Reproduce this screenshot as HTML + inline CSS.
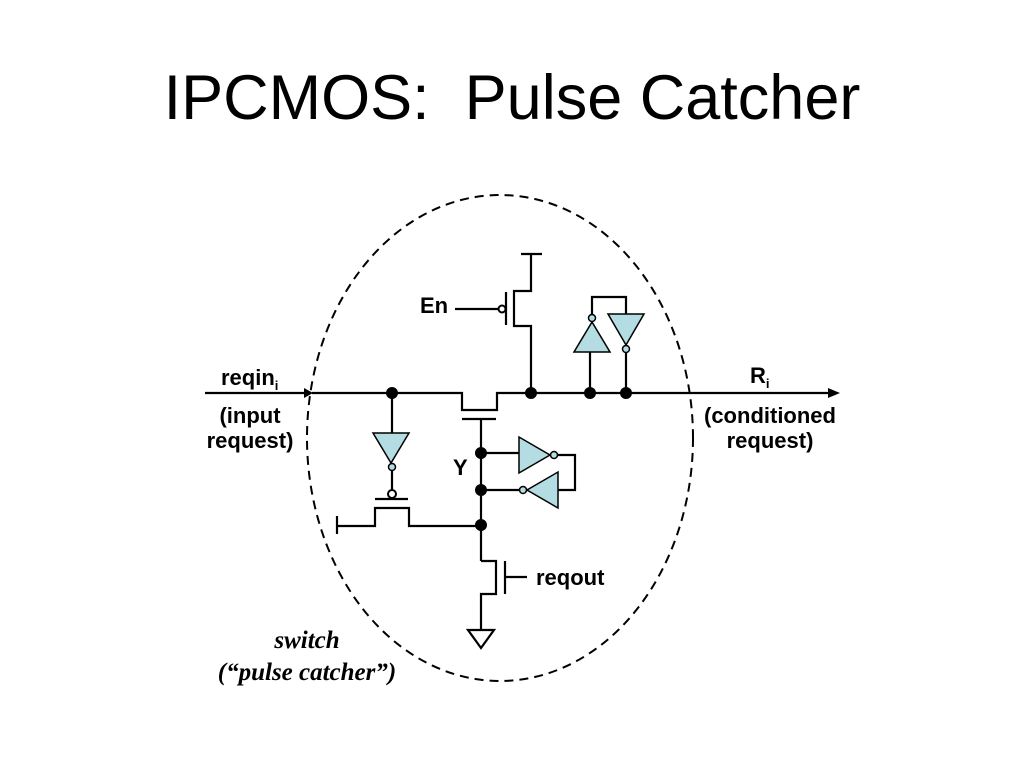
<!DOCTYPE html>
<html><head><style>
html,body{margin:0;padding:0;background:#fff;}
svg{display:block;}
</style></head><body>
<svg width="1024" height="768" viewBox="0 0 1024 768" xmlns="http://www.w3.org/2000/svg">
<text x="512" y="119" font-family="Liberation Sans, sans-serif" font-size="63" text-anchor="middle" fill="#000" xml:space="preserve" style="white-space:pre">IPCMOS:  Pulse Catcher</text>
<ellipse cx="500" cy="438" rx="193" ry="243" fill="none" stroke="#000" stroke-width="2" stroke-dasharray="9,6"/>
<g stroke="#000" stroke-width="2.2" fill="none">
<line x1="205" y1="393" x2="304" y2="393"/>
<polyline points="312,393 462,393 462,410 497,410 497,393 830,393"/>
<line x1="521" y1="254" x2="542" y2="254"/>
<polyline points="531,254 531,291 514,291 514,326 531,326 531,393"/>
<line x1="506" y1="292" x2="506" y2="325"/>
<line x1="455" y1="309" x2="498" y2="309"/>
<line x1="462" y1="419" x2="496" y2="419"/>
<line x1="481" y1="419" x2="481" y2="561"/>
<line x1="590" y1="352" x2="590" y2="393"/>
<line x1="626" y1="352" x2="626" y2="393"/>
<polyline points="592,315 592,297 626,297 626,314"/>
<line x1="481" y1="453" x2="519" y2="453"/>
<polyline points="558,455 575,455 575,490 527,490"/>
<line x1="481" y1="490" x2="519" y2="490"/>
<line x1="392" y1="393" x2="392" y2="433"/>
<line x1="392" y1="470" x2="392" y2="490"/>
<line x1="375" y1="499" x2="408" y2="499"/>
<polyline points="337,526 375,526 375,508 409,508 409,526 481,526"/>
<line x1="337" y1="516" x2="337" y2="534"/>
<polyline points="481,561 496,561 496,594 481,594 481,630"/>
<line x1="505" y1="561" x2="505" y2="594"/>
<line x1="505" y1="577" x2="527" y2="577"/>
<polygon points="468,630 494,630 481,648"/>
</g>
<polygon points="304,388 313,393 304,398" fill="#000"/>
<polygon points="828,388 840,393 828,398" fill="#000"/>
<g fill="#b3dde3" stroke="#000" stroke-width="1.5">
<polygon points="574,352 610,352 592,322"/>
<polygon points="608,314 644,314 626,345"/>
<polygon points="519,437 519,473 550,455"/>
<polygon points="558,472 558,508 527,490"/>
<polygon points="373,433 409,433 391,463"/>
<circle cx="592" cy="318" r="3.5"/>
<circle cx="626" cy="349" r="3.5"/>
<circle cx="554" cy="455" r="3.5"/>
<circle cx="523" cy="490" r="3.5"/>
<circle cx="392" cy="467" r="3.5"/>
</g>
<circle cx="502" cy="309" r="3.5" fill="#fff" stroke="#000" stroke-width="2"/>
<circle cx="392" cy="494" r="4" fill="#fff" stroke="#000" stroke-width="2"/>
<g fill="#000">
<circle cx="392" cy="393" r="6"/><circle cx="531" cy="393" r="6"/>
<circle cx="590" cy="393" r="6"/><circle cx="626" cy="393" r="6"/>
<circle cx="481" cy="453" r="6"/><circle cx="481" cy="490" r="6"/>
<circle cx="481" cy="525" r="6"/>
</g>
<g font-family="Liberation Sans, sans-serif" font-weight="bold" font-size="22" fill="#000">
<text x="420" y="313">En</text>
<text x="221" y="385">reqin<tspan font-size="13" dy="5">i</tspan></text>
<text x="250" y="423" text-anchor="middle">(input</text>
<text x="250" y="448" text-anchor="middle">request)</text>
<text x="750" y="383">R<tspan font-size="13" dy="5">i</tspan></text>
<text x="770" y="423" text-anchor="middle">(conditioned</text>
<text x="770" y="448" text-anchor="middle">request)</text>
<text x="453" y="475">Y</text>
<text x="536" y="585">reqout</text>
</g>
<g font-family="Liberation Serif, serif" font-style="italic" font-weight="bold" font-size="25" fill="#000" text-anchor="middle">
<text x="307" y="648">switch</text>
<text x="307" y="680">(“pulse catcher”)</text>
</g>
</svg>
</body></html>
